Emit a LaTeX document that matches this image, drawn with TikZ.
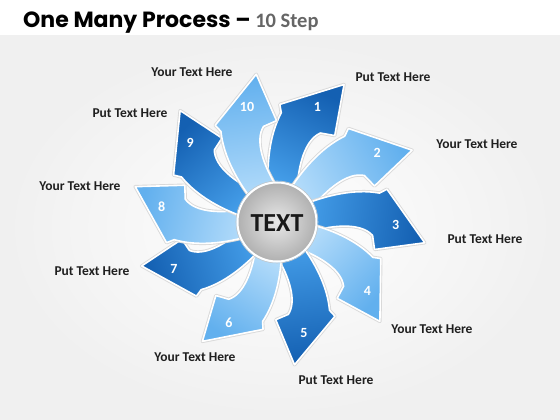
\documentclass[tikz,border=0pt]{standalone}
\usepackage{fontspec}
\setmainfont{Carlito}
\newfontfamily\titlefont{Poppins}
\usepackage{xcolor}
\usepackage{tikz}

\definecolor{darkbase}{HTML}{449DE8}
\definecolor{darktip}{HTML}{1460B2}
\definecolor{lightbase}{HTML}{B2DBFA}
\definecolor{lighttip}{HTML}{62B0EE}

% one curved arrow, tip on the x axis
\newcommand{\petalpath}{(24,21) .. controls (46,34) and (74,45) .. (100,44) -- (107,49) -- (153,0) -- (103,-14) -- (99,0) .. controls (86,11) and (60,6) .. (35,-5) -- cycle}

\begin{document}
\begin{tikzpicture}[x=1pt,y=1pt,
    tagtext/.style={font=\fontsize{13.5}{16}\selectfont\bfseries, text=black!88},
    num/.style={font=\fontsize{14}{16}\selectfont\bfseries, text=white},
    darkpetal/.style={left color=darkbase, right color=darktip},
    lightpetal/.style={left color=lightbase, right color=lighttip}]
                % background
                \useasboundingbox (-277,-198) rectangle (283,222);
                \shade[inner color=white, outer color=gray!12] (-277,-198) rectangle (283,187);
                \fill[white] (-277,187) rectangle (283,222);
                \node[anchor=base west, inner sep=0pt] (title) at (-254,194)
                    {\titlefont\bfseries\fontsize{22}{26}\selectfont One Many Process – {\rmfamily\bfseries\fontsize{20.5}{26}\selectfont\color{black!60} 10 Step}};
                % ten arrows
                \foreach \a/\s/\n/\kind in {64/1.00/1/darkpetal, 28/1.00/2/lightpetal, -8/0.975/3/darkpetal, -44/0.935/4/lightpetal, -83/0.94/5/darkpetal, -122/0.92/6/lightpetal, -162/0.93/7/darkpetal, 166/0.955/8/lightpetal, 131/0.965/9/darkpetal, 98/0.975/10/lightpetal} {
                    \pgfmathsetmacro\sa{\a+90}
                    \begin{scope}[rotate=\a, scale=\s]
                        \draw[gray!30, line width=3.4pt, line join=round] \petalpath;
                        \shade[\kind, shading angle=\sa, draw=white, line width=1.6pt, line join=round] \petalpath;
                        \node[num] (num\n) at (121,14) {\n};
                    \end{scope}
                }
                % centre
                \draw[gray!45, line width=0.6pt] (0,0) circle(41);
                \shade[inner color=gray!18, outer color=gray!62, draw=white, line width=2pt] (0,0) circle(39.5);
                \node[font=\fontsize{26}{30}\selectfont\bfseries, text=black!90] (core) at (0,-1) {TEXT};
                % texts
                \node[tagtext] (tag1) at (116,145) {Put Text Here};
                \node[tagtext] (tag2) at (200,78) {Your Text Here};
                \node[tagtext] (tag3) at (208,-17) {Put Text Here};
                \node[tagtext] (tag4) at (155,-107) {Your Text Here};
                \node[tagtext] (tag5) at (59,-158) {Put Text Here};
                \node[tagtext] (tag6) at (-82,-135) {Your Text Here};
                \node[tagtext] (tag7) at (-185,-49) {Put Text Here};
                \node[tagtext] (tag8) at (-197,36) {Your Text Here};
                \node[tagtext] (tag9) at (-147,109) {Put Text Here};
                \node[tagtext] (tag10) at (-85,150) {Your Text Here};
            \end{tikzpicture}
\end{document}
